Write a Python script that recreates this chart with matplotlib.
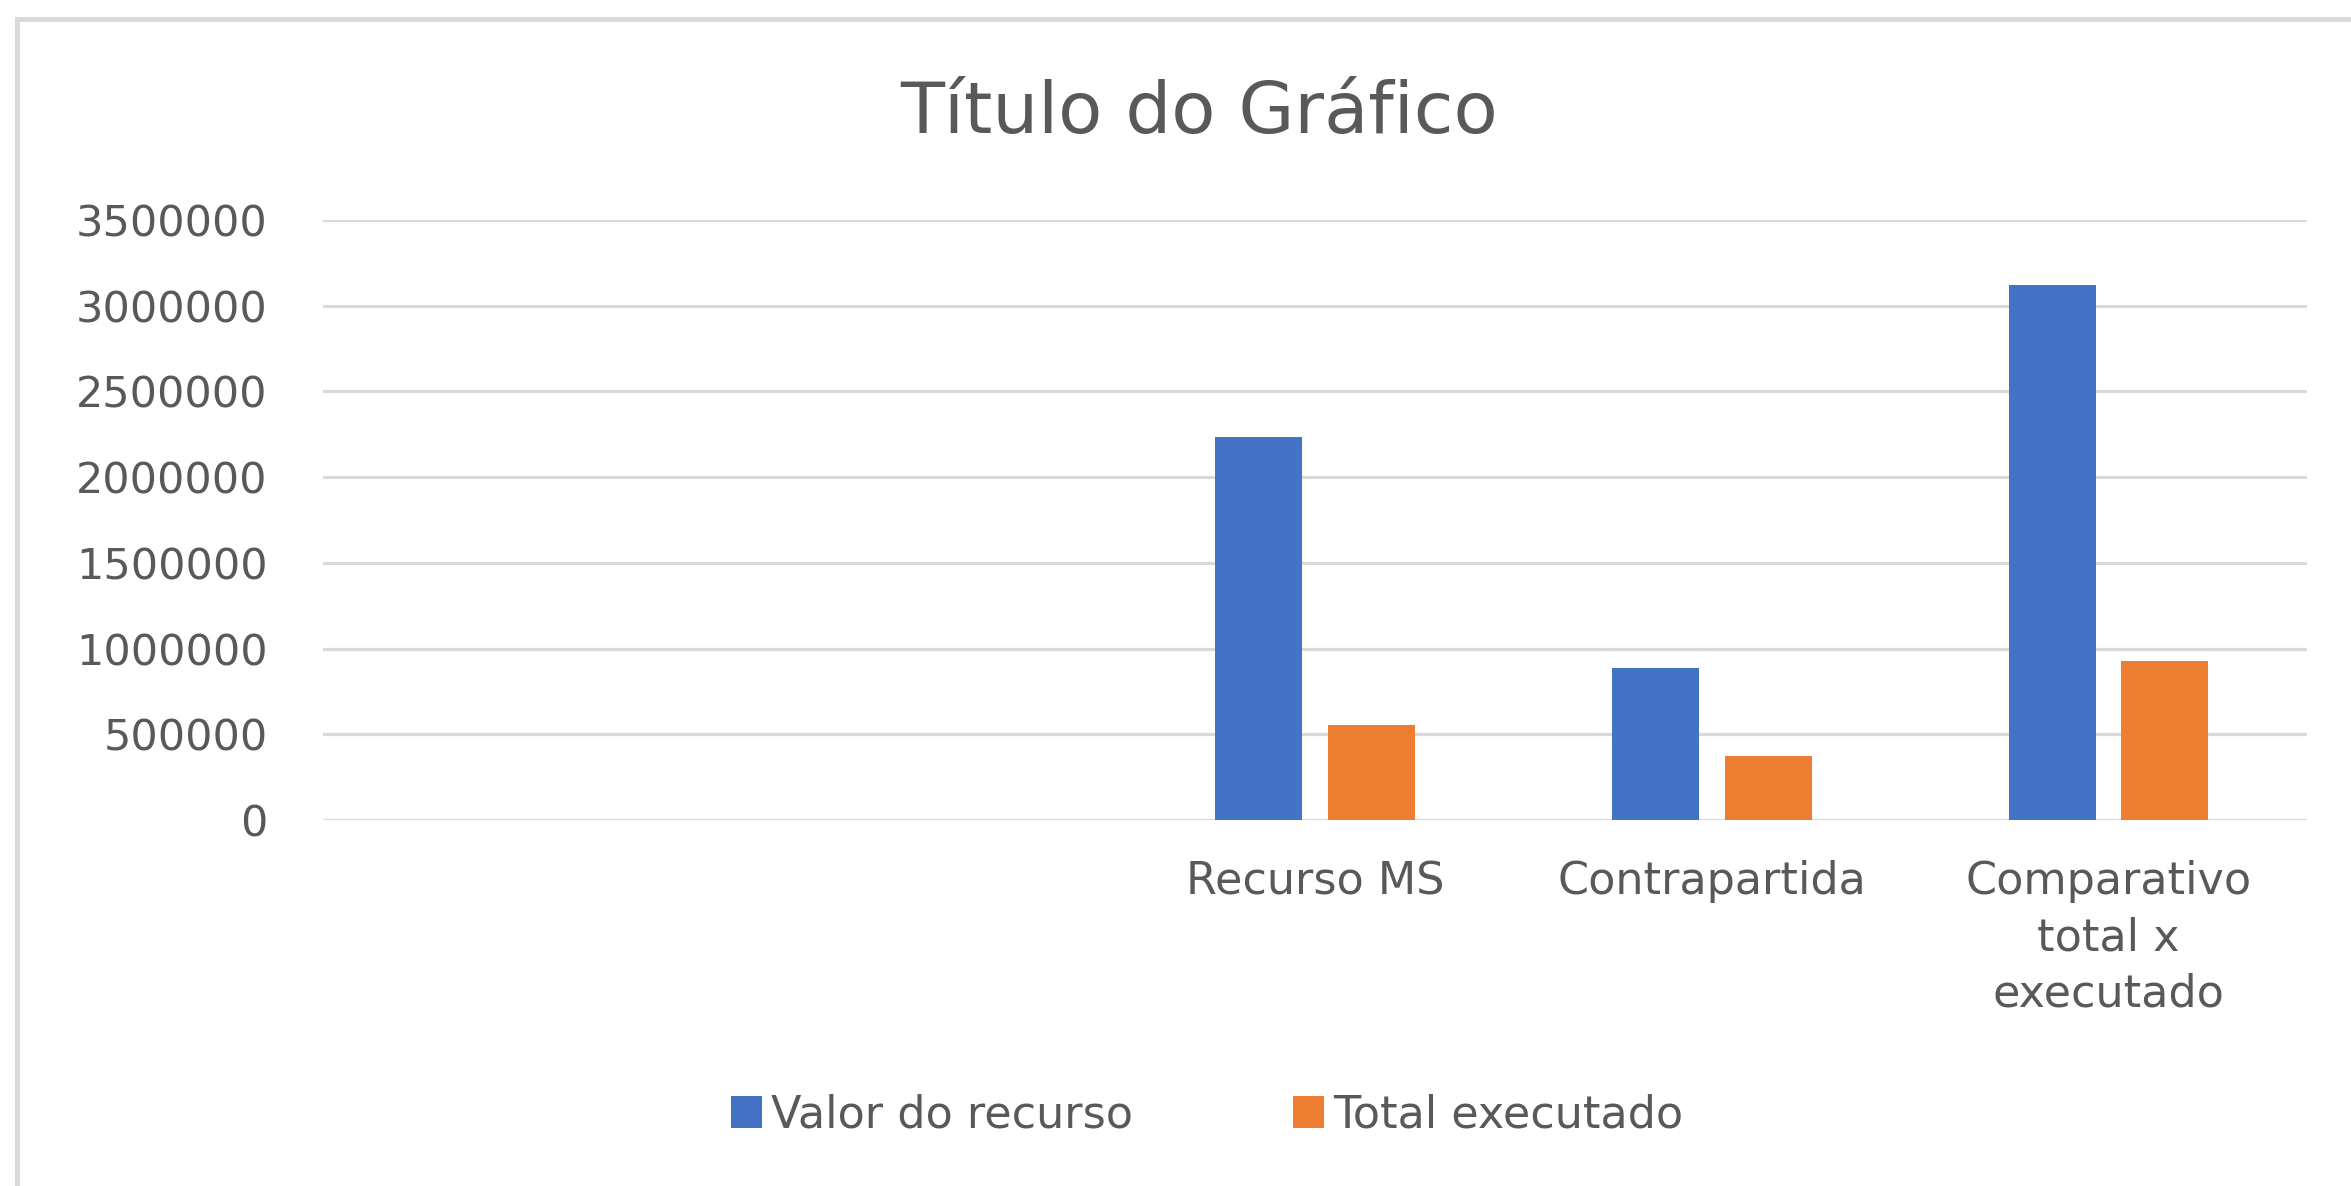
import numpy as np
import matplotlib
matplotlib.use("Agg")
import matplotlib.pyplot as plt
from matplotlib.patches import Patch, Rectangle

plt.rcParams['font.family'] = ['DejaVu Sans']

categories = ["", "", "Recurso MS", "Contrapartida", "Comparativo\ntotal x\nexecutado"]
valor_do_recurso = [np.nan, np.nan, 2233000, 887000, 3120000]
total_executado = [np.nan, np.nan, 553000, 373000, 930000]
series_names = ["Valor do recurso", "Total executado"]
yticks = [0, 500000, 1000000, 1500000, 2000000, 2500000, 3000000, 3500000]
title = "Título do Gráfico"

W, H = 2351, 1186
DPI = 100
fig = plt.figure(figsize=(W / DPI, H / DPI), dpi=DPI)
fig.patch.set_facecolor("white")

text_color = "#595959"
grid_color = "#d9d9d9"
blue = "#4472C4"
orange = "#ED7D31"

# chart border (top and left visible)
border = Rectangle((17 / W, 1 - 2000 / H), 4000 / W, (2000 - 19) / H,
                   transform=fig.transFigure, fill=False,
                   edgecolor=grid_color, linewidth=3.6, zorder=0)
fig.patches.append(border)

left, right, top, bottom = 323, 2307, 220, 820
ax = fig.add_axes([left / W, 1 - bottom / H, (right - left) / W, (bottom - top) / H])

x = np.arange(len(categories))
bw = 0.219
off = 0.142
ax.bar(x - off, valor_do_recurso, width=bw, color=blue, zorder=3)
ax.bar(x + off, total_executado, width=bw, color=orange, zorder=3)

ax.set_xlim(-0.5, len(categories) - 0.5)
ax.set_ylim(0, 3500000)
ax.set_yticks(yticks)
ax.set_yticklabels([str(v) for v in yticks])
ax.set_xticks(x)
ax.set_xticklabels(categories, linespacing=1.38)

ax.yaxis.grid(True, color=grid_color, linewidth=2.3, zorder=0)
ax.set_axisbelow(True)
for s in ax.spines.values():
    s.set_visible(False)
ax.tick_params(axis='both', length=0, labelcolor=text_color)
ax.tick_params(axis='y', pad=40, labelsize=31)
ax.tick_params(axis='x', pad=29, labelsize=32)
ax.set_facecolor("none")

fig.text(1199 / W, 1 - 133 / H, title, ha='center', va='baseline',
         fontsize=52, color=text_color)

handles = [Patch(facecolor=blue, edgecolor='none'), Patch(facecolor=orange, edgecolor='none')]
fig.legend(handles, series_names, loc='center', bbox_to_anchor=(1207 / W, 1 - 1115 / H),
           ncol=2, frameon=False, fontsize=32, labelcolor=text_color,
           handlelength=0.70, handleheight=0.70, handletextpad=0.2,
           columnspacing=3.6, borderpad=0, borderaxespad=0)

fig.savefig("out.png", dpi=DPI, facecolor="white")
